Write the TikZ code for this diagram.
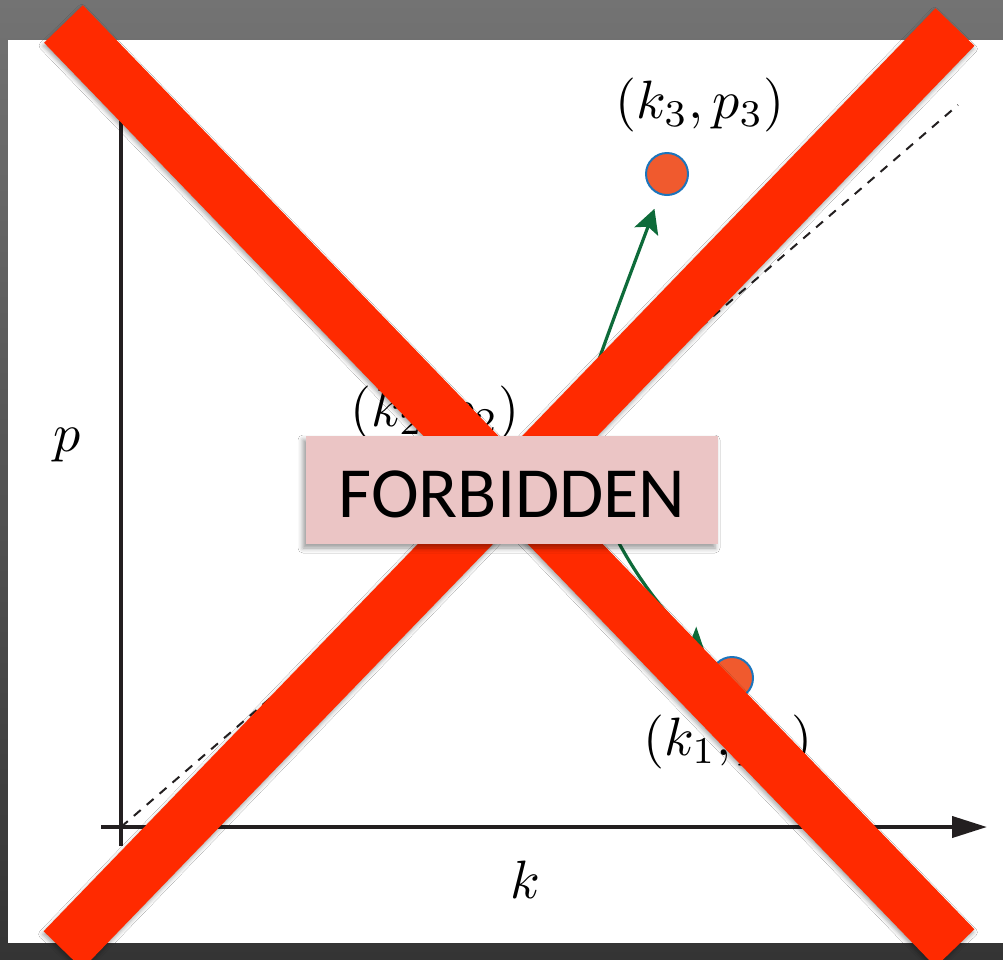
\documentclass[tikz,border=0pt]{standalone}
\usepackage{fontspec}
\newfontfamily\boxfont{Carlito}
\usepackage{xcolor}
\usepackage{graphicx}
\usepackage{tikz}
\usetikzlibrary{calc, arrows.meta, shadows.blur}
\definecolor{xred}{RGB}{255,42,0}
\definecolor{boxpink}{RGB}{235,197,197}
\definecolor{ptfill}{RGB}{240,90,46}
\definecolor{ptline}{RGB}{28,117,188}
\definecolor{arrgreen}{RGB}{14,107,58}
\definecolor{axisgray}{RGB}{35,31,32}
\definecolor{bgtop}{RGB}{115,115,115}
\definecolor{bgbot}{RGB}{52,52,52}
\newcommand{\lab}[1]{\scalebox{5.4}{$#1$}}

\begin{document}
\begin{tikzpicture}[x=1pt, y=-1pt,
  lbl/.style={font=\fontsize{10}{12}\selectfont, inner sep=0pt},
  pt/.style={circle, draw=ptline, fill=ptfill, line width=2pt, minimum size=42pt, inner sep=0pt},
  move/.style={draw=arrgreen, line width=3.2pt, -{Stealth[length=24pt, width=25pt, inset=5pt]}, shorten >=15pt},
  axis/.style={draw=axisgray, line width=4pt},
  guide/.style={draw=axisgray, line width=2pt, dash pattern=on 9pt off 8pt},
  bar/.style={fill=xred, blur shadow={shadow xshift=-1pt, shadow yshift=-3pt, shadow blur radius=4pt, shadow opacity=35}},
  box/.style={fill=boxpink, minimum width=412pt, minimum height=108pt, inner sep=0pt, text height=55pt, text depth=0pt, font=\boxfont\fontsize{72}{80}\selectfont, blur shadow={shadow xshift=-3pt, shadow yshift=-4pt, shadow blur radius=5pt, shadow opacity=40}}]
  \useasboundingbox (0,0) rectangle (1003,959);
  \clip (0,0) rectangle (1003,959);
  % frame
  \shade[top color=bgtop, bottom color=bgbot] (0,0) rectangle (1003,959);
  \fill[white] (8,40) rectangle (1003,943);
  % axes
  \coordinate (o) at (121,827);
  \coordinate (ytop) at (121,100);
  \coordinate (ybot) at (121,846);
  \coordinate (xl) at (101,827);
  \coordinate (xr) at (987,827);
  \coordinate (dend) at (958,105);
  \draw[axis] (ybot) -- (ytop);
  \draw[axis, -{Triangle[length=35pt, width=21pt]}] (xl) -- (xr);
  \draw[guide] (o) -- (dend);
  \node[lbl] (lp) at (67,445) {\lab{p}};
  \node[lbl] (lk) at (525,880) {\lab{k}};
  % points
  \node[pt] (p3) at (667,174) {};
  \node[pt] (p2) at (580,415) {};
  \node[pt] (p1) at (732,678) {};
  \node[lbl] (l3) at (700,105) {\lab{(k_3,p_3)}};
  \node[lbl] (l2) at (435,413) {\lab{(k_2,p_2)}};
  \node[lbl] (l1) at (728,742) {\lab{(k_1,p_1)}};
  \draw[move] (p2) .. controls (605,340) and (645,235) .. (p3);
  \draw[move] (p2) .. controls (595,530) and (660,610) .. (p1);
  % the cross
  \fill[bar] (44.1,42.75) -- (82.9,5.25) -- (974.4,929.25) -- (935.6,966.75) -- cycle;
  \fill[bar] (43.6,931.2) -- (935.6,8.2) -- (974.4,45.8) -- (82.4,968.8) -- cycle;
  \node[box] (forbid) at (512,490) {FORBIDDEN};
\end{tikzpicture}
\end{document}
